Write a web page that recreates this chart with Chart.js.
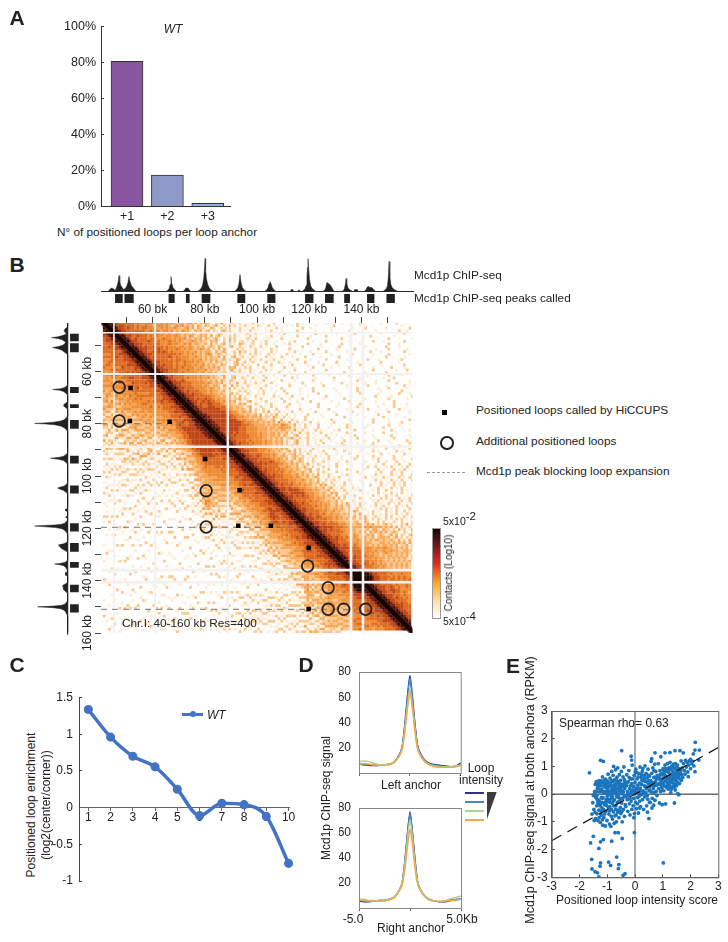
<!DOCTYPE html>
<html>
<head>
<meta charset="utf-8">
<title>Positioned loops figure</title>
<script src="https://cdn.jsdelivr.net/npm/chart.js@4/dist/chart.umd.min.js"></script>
<style>
  html, body { margin: 0; padding: 0; background: #fff; }
  #page { position: relative; width: 728px; height: 942px; overflow: hidden; font-family: "Liberation Sans", Arial, sans-serif; color: #222; }
  #page canvas { position: absolute; }
  .t { position: absolute; white-space: nowrap; line-height: 1; }
</style>
</head>
<body>
<div id="page"></div>
<script>
// panel A
const anchorLabels = ['+1', '+2', '+3'];
const anchorShare = [80.8, 17.5, 1.8];

// panel B tracks, signal along the chromosome (kb)
const trackKb = [40.5,43,43.7,44.4,45.1,45.6,46,46.4,46.8,47.1,47.4,47.8,48.3,48.8,49.5,50,50.5,50.9,51.3,51.8,52.4,53,53.6,
  65,65.6,66.2,66.6,66.9,67.2,67.7,68.3,69,71.5,72.2,72.6,73,73.4,73.8,74.5,
  77,77.8,78.5,79,79.4,79.7,79.9,80.1,80.4,80.9,81.5,82.2,83,91,91.8,92.4,92.8,93.2,93.6,94.1,94.8,95.6,
  102.5,103.3,103.9,104.3,104.6,105,105.5,106.2,107,112.4,112.7,113.3,113.6,115.3,115.5,115.9,116.1,
  116.8,117.5,118,118.4,118.7,118.9,119.1,119.4,119.7,120.1,120.7,121.4,122.2,124.8,125.5,125.9,126.3,126.9,127.4,128,128.6,129.2,
  132,132.6,133,133.4,133.6,133.9,134.3,134.9,135.5,136.2,136.6,136.9,137.9,138.2,140.6,141.2,141.7,142.2,142.8,143.4,144,144.8,
  147.7,148.4,149,149.4,149.7,150,150.3,150.7,151.2,151.9,152.7,153.5,159.5];
const trackSignal = [0,0,2.5,3.5,2.5,1,3,6,10,16,10,6,4,2,3,5,9,15,10,6,4,2,0,
  0,1,3,7,15,8,4,2,0,0,2,3.5,3.5,3.5,2,0,
  0,1.5,3.5,7,14,24,33,22,13,7,3.5,1.5,0,0,1.5,4,8,17,9,4,1.5,0,
  0,1.5,4,8,10,8,4,1.5,0,0,2,2,0,0,1.5,1.5,0,
  0,1.5,3,6,13,24,33,22,12,6,3,1.5,0,0,1.5,4,9,8,7,5,2,0,
  0,1,3,8,13,8,4,2,1,0,0,2,2,0,0,2,4.5,5,4,4,2.5,0,
  0,1.5,3,6,14,30,15,7,4,2,1,0,0];
const peakStart = [45.6,49.2,66,72.6,78.6,92.2,103.6,118,125.6,132.9,141.6,149];
const peakEnd = [48.5,52.7,68.3,74,81.9,95.2,106.7,121.2,128.9,135.1,144.4,152.2];

// panel B contact map, 1 kb bins from 41 kb, upper triangle, one digit per bin (0 white .. 9 black)
const contactRows = [
  '9998776666 6656555655 5454545434 4345342434 3213242303 2031021320 0201030102 0100302001 0010020100 0200010030 0010002000 003000100',
  '9998777666 6565565545 5545434545 3434243243 2342031423 0213020131 1030201002 0203001000 2001000301 0010000200 0010000100 00020010',
  '9998776766 5656655554 5454454334 5342433204 3123243020 3102030210 2001302010 0100300200 0001020010 0002000030 0100002000 0100030',
  '9998776666 6665565654 5545343544 3243423413 2034232103 1203020102 0301020001 0300100020 0100200001 0300001000 0200010000 300200',
  '9988767666 6565556555 4544543443 4324342302 4312203120 2301302010 1002030100 2001000300 1000020100 0030000100 0020000010 03000',
  '9998776676 6656565545 5455434354 2343424034 2213032102 0312010203 0102001003 0010200010 3000100002 0001000300 0010002000 1000',
  '9998767666 6566555655 4545453434 3424323420 3142302013 2030120201 0030102000 1030010002 0100030000 1002000010 0003000100 002',
  '9998776666 7665655565 5454344543 4332434203 2413023120 3012030102 0100203001 0002010030 0010000200 0100003000 2000010030 00',
  '9988777666 6666555655 5445453443 3424232340 3121432023 1020301201 0203001000 3001020001 0003000100 2000010000 0300020001 0',
  '9998776766 7666565554 5544543434 2343243203 4123021320 1302010301 0020100300 1000200100 0300001000 0200100003 0000200010',
  '9998777666 6765655565 4545434543 4232424312 0323102031 0201302001 0300102000 1030001002 0001003000 1000200003 000100200',
  '9998776676 7676565555 4544534344 3242343023 1423021302 0103020100 2030010020 0100300001 0020000100 0300020000 10003000',
  '9988777666 6666665654 5454343454 2343242031 3220313020 1302010030 1002001030 0100020010 0003000010 0200000300 0100020',
  '9998767666 6676565555 4454434343 3424203412 3021320103 0201030102 0010300100 2000100300 0010002000 1000030010 002000',
  '9998776666 6565665554 5445343434 2342320431 2031203012 0301020010 3001020001 0300010002 0001000300 0200001000 30010',
  '9998777666 6656556555 4544334243 3242034123 0232010302 0130102001 0030100200 1000300100 0020001000 0300010020 0001',
  '9998776766 6565565545 4453434324 3320341302 2103020130 1020103001 0020100030 0100200001 0030001000 2000100003 000',
  '9988776666 5656555544 5434343423 2434120323 1020310201 0030102000 1003001000 2000100300 0010002000 1003000020 00',
  '9998777666 6555655454 4534334232 3402312031 2010302010 2001030010 0200100300 0010000200 0100030001 0000200030 0',
  '9998776666 5655555445 3443423342 0323120320 1302010030 1020001030 0100020001 0003000100 0200001003 0000100200',
  '9998767666 6555554544 4343234203 3212031020 1301020103 0010200100 3000102000 1000300010 0200100003 000020001',
  '9998776666 5655545445 3433242034 1232013021 0301020001 0302000100 2000100300 0010000200 0100002000 30001000',
  '9988776676 5555454434 3424303321 2031202103 0102003010 0200100030 0010002000 1000030001 0020000300 0100020',
  '9998777666 6555554543 4342330241 2302130201 0301001020 0103000100 2000010030 0001000200 0200010003 000020',
  '9998776666 5555454344 3243042312 0321020130 1020010300 1002000100 3000010002 0001000300 0100200001 03000',
  '9998776666 5555445434 2334132031 2012030102 0013001000 2001030000 1002000010 0030001000 2000300100 0200',
  '9988767666 6555454433 4232023130 2102031010 2003010002 0010300010 0002000100 0300001000 2001000030 010',
  '9998776766 6554544343 2342312032 1020301020 0103001020 0100030001 0002000100 0300001020 0001003000 20',
  '9998777666 6665544343 4230412021 3012010302 0010301000 2000100300 0010002000 1000003000 1020000100 3',
  '9998776766 7665454434 2334132012 0301020103 0020010300 0100020001 0003000010 0200001000 3000100200',
  '9998776676 7665545343 4232034120 2130102013 0010200103 0001000200 1000300010 0000200100 030000100',
  '9998767667 7666544433 2434120321 0203010200 3010200100 0300010002 0001000300 0001002000 30010200',
  '9998776677 7666654434 3323412032 1030201030 1002001000 3001000200 0100030001 0002000103 0000100',
  '9988777777 7766654343 4324132030 2103010201 0030102000 1003000100 2000010030 0001020000 300100',
  '9998777777 7776655434 4342310324 1203020130 1020010300 0100200100 0300001000 2000130000 10020',
  '9998877777 7776655443 4334241303 2412031020 1003010020 0100300010 0020001000 3000100200 0010',
  '9998877777 7776655544 3443423314 3203120201 0301001020 0010003000 1000200010 0300001002 000',
  '9998877777 7777655544 4344332342 0412130201 3002010010 3000100200 0100003000 1020000100 30',
  '9998877777 7777765554 4434343425 3324123021 0301200100 3001000200 0100030010 0200003000 1',
  '9998877777 7777666554 4443434435 5432412030 2103010020 0100300010 0020001000 3000200010',
  '9998877777 7766655554 4443443454 4423120320 1030102000 1003001000 2000100300 001020000',
  '9998777777 7666555544 4434343443 3242031201 3020100203 0010030010 0020001003 00001020',
  '9998777767 6665555454 4344343342 3204123020 1301020010 0300100020 0010030000 2001000',
  '9998776766 6665554544 3443424320 3412031020 1030102001 0003001000 2000100300 001020',
  '9998776666 6655555443 4343423342 0312302010 2030100200 1003000100 2001000300 01002',
  '9998776666 5655554544 3434232034 1203012030 1020010300 0100020010 3000200100 0300',
  '9988767666 5655545443 4342320341 2031020130 1002030010 0200100300 1000200010 030',
  '9998776666 5555454434 3423240312 0321030102 0010030100 0200013000 2010003001 02',
  '9998776666 6555544343 4342032312 0130201020 3010020010 0300020100 3002000103 0',
  '9998777666 5554544343 2342403120 3102030100 2003010002 0100302001 0003020010',
  '9998776666 6555454334 2334132032 0102030102 0010300100 0201003002 000103020',
  '9998776676 5554543443 2343032120 3021030100 2001003000 1030020010 30020010',
  '9988777666 6655454342 3424312032 1020301002 0100300010 0203001003 0020103',
  '9998776766 6765544334 2343120320 1302010200 3001000200 1030020103 002010',
  '9998777676 6665544343 4232412032 1020130102 0010030010 2003010203 01030',
  '9998776666 6654454334 2342031203 0210301000 2001003003 0102030102 0301',
  '9998767666 5655444343 2334123020 3102010300 1000200103 0201030203 010',
  '9998776666 5654544334 3242031320 1030201000 3001000203 0103020301 02',
  '9998776766 6555445343 4232412032 0102030100 2000103020 1030203010 3',
  '9988777666 5555454334 2343120312 0301020100 0300201030 2010302030',
  '9998776666 6555445434 3242031230 2010301020 0100302010 302030103',
  '9998776666 5654544343 3423203121 0302010030 0102030120 30203010',
  '9998767666 6555454433 2434123020 3102010200 3010302013 0203010',
  '9998777676 6655544343 3423412032 0130201000 1030201302 030102',
  '9998776777 7665554443 3342312032 1020301002 0301302010 30201',
  '9998776777 7765554434 3243412031 2010302010 3020130203 0102',
  '9998777676 7665544343 4324123020 3102010302 0130203010 203',
  '9988776666 6655454433 3424130212 0301020103 0302013020 30',
  '9998776666 5655544343 3423210321 0301020302 0130203103 0',
  '9998776766 5554544433 4232431203 0201030201 3020310203',
  '9998776666 5655454334 3423412032 1020301302 013020301',
  '9998777666 5554543443 4324123032 0102031302 03102030',
  '9998776666 6555445343 3243431202 1302013020 3103020',
  '9998767666 5654544434 3423243120 3102030213 021302',
  '9998776676 5555454433 4342334212 3021303102 03013',
  '9988776666 6554544343 4323342131 3203120313 0212',
  '9998777666 5655444343 3423431023 1302132031 203',
  '9998776766 6665554443 4443434232 3423120324 13',
  '9998877777 6666554544 4454544443 4342413203 1',
  '9998777676 6655454433 4342443243 3231423024',
  '9998776666 6654544343 4243434342 343213203',
  '9998776666 5554454343 4342343234 24132034',
  '9998776766 5654543443 3423443423 4231323',
  '9998777666 5554544434 3443433432 423142',
  '9998776666 6555454443 3344343434 34243',
  '9988776766 5654544343 4344343423 3423',
  '9998777777 6655555445 4554434343 423',
  '9998776776 6655554544 5445443344 33',
  '9998776666 6555454434 5443434343 2',
  '9998776766 5655544343 4434343423',
  '9998777666 5554544434 3434343234',
  '9998776666 6555454343 4343434',
  '9988776676 5654544343 434343',
  '9998777666 5554543434 34343',
  '9998776666 6555444343 4343',
  '9999887766 6666655555 555',
  '9999998776 6665655565 55',
  '9999998776 6665656565 5',
  '9999987766 6566565656',
  '9998877666 565655656',
  '9998776666 65655565',
  '9998777667 6565565',
  '9998776677 665555',
  '9988776676 65654',
  '9998777666 5655',
  '9998776766 565',
  '9998776666 55',
  '9998776766 5',
  '9988777666',
  '999877666',
  '99987766',
  '9998776',
  '999877',
  '99987',
  '9998',
  '999',
  '99',
  '9'
];
const contactColors = ['#ffffff','#fffaf3','#feecd6','#fcc88e','#f6a656','#ee8c33','#dd6a20','#bf4617','#7c1f10','#1b0907'];
const gapKb = [45.2, 61, 88.8, 136, 140.6];
const gapWidth = [1.6, 2, 2.5, 2.8, 2.5];
const hiccupsX = [51.56,51.29,66.53,80.13,93.31,92.82,105.28,119.76,119.76];
const hiccupsY = [66.35,78.96,79.23,93.49,105.45,118.98,118.98,127.39,150.83];
const extraX = [47.21,47.21,80.51,80.51,119.38,127.23,127.23,133.2,141.59];
const extraY = [66.08,78.96,105.6,119.48,134.39,142.68,150.94,150.94,150.94];
const blockY = [80, 119.6, 150.94];
const blockEnd = [76.8, 114.2, 147.7];
const topTickText = {60: '60 bk', 80: '80 kb', 100: '100 kb', 120: '120 kb', 140: '140 kb'};
const leftTickText = {60: '60 kb', 80: '80 bk', 100: '100 kb', 120: '120 kb', 140: '140 kb', 160: '160 kb'};

// panel C
const deciles = [1,2,3,4,5,6,7,8,9,10];
const enrichment = [1.336,0.96,0.70,0.555,0.25,-0.11,0.06,0.04,-0.12,-0.76];

// panel D
const anchorX = [-5,-4.5,-4,-3.5,-3,-2.5,-2,-1.5,-1,-0.75,-0.5,-0.25,0,0.25,0.5,0.75,1,1.5,2,2.5,3,3.5,4,4.5,5];
const leftNavy = [7,6.5,6,6,6,6.5,7,9,15,21,38,60,77,61,39,22,16,10,7.5,6.5,6,5.5,5,5.5,8];
const leftBlue = [7,6.5,6.5,6,6,6.5,7,9,15,21,37,58,75,59,38,22,16,9.5,7,6,5.5,5,5,5.5,7];
const leftGreen = [9,9.5,9,7.5,6.5,6.5,7,9,14,20,34,53,67,54,35,20,14.5,9,6.5,5.5,5,5,5,5.5,6];
const leftOrange = [7,7.5,7,6.5,6,6,6.5,8.5,14,19,32,50,64,51,33,19,14,8.5,6,5,4.5,4.5,4.5,5,6];
const rightNavy = [5.5,5,5,5.5,6,6,7,9,15,21,38,60,77,60,38,21,15,9,6.5,5.5,5,5,6,6.5,7];
const rightBlue = [6,5.5,5.5,5.5,6,6,7,9,15,21,37,58,75,59,37,21,15,9,6.5,5.5,5,5.5,6.5,7,7.5];
const rightGreen = [7,7,6,6,5.5,6,7,9.5,15,21,35,56,71,56,35,21,15,9,6.5,5.5,5.5,6,7.5,8.5,9.5];
const rightOrange = [6.5,6,5.5,5.5,5.5,5.5,6.5,8.5,14,19,31,49,63,50,31,19,14,8.5,6,5.5,5,5.5,6,6.5,7];
const intensityColors = ['#2e3192','#4a86c8','#a6d78c','#f9a64a'];

// panel E
const loopScore = [
  -1.64,-1.6,-1.5,-1.56,-1.55,-1.44,-1.35,-1.3,-1.24,-1.3,-1.14,-.84,-1.24,-1.26,-.95,-.88,-.66,-.58,-.6,-.36,
  -.43,1.02,-.02,-.46,-.72,-.6,-.48,-.14,-.12,-1.24,-1.14,2.17,2.16,2.32,2.3,.72,1.08,1.26,1.44,1.62,
  1.74,2.1,2,2.16,1.92,
  -1.55,-1.52,-1.48,-1.46,-1.42,-1.41,-1.4,-1.38,-1.37,-1.35,-1.34,-1.33,-1.31,-1.3,-1.28,-1.27,-1.25,-1.24,-1.22,-1.21,
  -1.2,-1.19,-1.17,-1.16,-1.15,-1.14,-1.12,-1.11,-1.1,-1.08,-1.07,-1.06,-1.05,-1.03,-1.02,-1.01,-1,-.98,-.97,-.96,
  -.95,-.94,-.93,-.92,-.9,-.89,-.88,-.87,-.86,-.85,-.84,-.83,-.82,-.81,-.8,-.79,-.78,-.77,-.76,-.75,
  -.74,-.73,-.72,-.71,-.7,-.69,-.68,-.67,-.66,-.65,-.64,-.63,-.62,-.61,-.6,-.59,-.58,-.57,-.56,-.55,
  -.54,-.53,-.52,-.51,-.5,-.49,-.48,-.47,-.46,-.45,-.44,-.43,-.42,-.41,-.4,-.39,-.38,-.37,-.36,-.35,
  -1.5,-1.44,-1.39,-1.36,-1.33,-1.29,-1.26,-1.23,-1.18,-1.13,-1.09,-1.04,-.99,-.91,-.83,-.79,-.71,-.66,-.61,-.53,
  -1.47,-1.43,-1.37,-1.32,-1.27,-1.22,-1.17,-1.11,-1.06,-1.01,-.96,-.92,-.87,-.82,-.77,-.72,-.67,-.62,-.57,-.52,
  -1.36,-1.3,-1.24,-1.19,-1.13,-1.07,-1.03,-.98,-.93,-.86,-.8,-.74,-.69,-.64,-.59,-.55,-.5,-.47,-.42,-.38,
  -.33,-.31,-.3,-.28,-.27,-.26,-.24,-.23,-.22,-.2,-.19,-.18,-.16,-.15,-.14,-.12,-.11,-.1,-.08,-.07,
  -.06,-.05,-.03,-.02,-.01,0,.02,.03,.04,.05,.07,.08,.09,.1,.12,.13,.14,.16,.17,.18,
  .19,.2,.22,.23,.24,.26,.27,.28,.3,.31,.32,.34,.35,.36,.38,.39,.4,.42,.43,.44,
  .46,.47,.48,.5,.51,.52,.54,.55,.56,.58,.59,.6,.62,.63,.64,.66,.67,.68,.7,.71,
  .72,.74,.75,.76,.78,.79,.8,.82,-.25,-.17,-.09,-.04,.06,.15,.21,.29,.37,.45,.53,.61,
  .69,.77,.33,.41,.49,.57,.25,.11,-.13,-.21,-.29,.01,.09,.17,.28,.44,.52,.6,.68,.84,
  .85,.86,.88,.89,.9,.92,.93,.94,.96,.97,.98,1,1.01,1.02,1.04,1.05,1.06,1.08,1.09,1.1,
  1.12,1.13,1.14,1.16,1.17,1.18,1.2,1.21,1.22,1.24,1.25,1.26,1.28,1.29,1.3,1.32,1.33,1.34,1.36,1.37,
  1.38,1.4,1.41,1.42,1.44,1.45,1.46,1.48,1.49,1.5,1.52,1.53,1.54,1.56,1.57,1.58,1.6,1.62,1.64,1.66,
  1.68,1.7,1.72,1.75,1.78,1.8,1.82,1.85,1.88,1.9,1.93,1.96,2,2.04,2.08,2.12,.87,.95,1.03,1.11,
  1.19,1.27,1.35,1.43,1.51,1.59,1.67,1.15,1.23,1.31,1.39,1.47,1.55,1.07,.99,.91,1.28,1.36,1.44,1.52,
  1.2,1.3,1.4,1.5,1.6,1.1,1,.9,1.25,1.35,1.45,1.55,1.65,
  -1.45,-1.21,-1.12,-1.04,-.97,-.9,-.84,-.78,-.7,-.63,-.56,-.49,-.44,-1.34,-1.26,-1.16,-1.09,-1,-.92,-.85,
  -.78,-.68,-.6,-.51,-.4,-.32,-.18,-.04,.12,.22,.35,.48,.6,.72,.92,1.04,1.16,1.27,1.38,1.49];
const anchorSignal = [
  .77,-1.76,-1.52,-2.35,-2.7,-2.8,-2.84,-2.99,-1.72,-1.96,-1.64,-1.7,-2.48,-2.6,-2.45,-2.57,-2.27,-2.54,-2.69,-2.87,
  -2.93,-2.48,-1.39,-1.6,-1.39,-1.39,1.57,1.37,1.23,1.22,1.18,1.87,1.59,1.59,1.23,1.49,1.49,1.5,1.57,1.57,
  1.49,1.45,1.25,.81,.63,
  -.72,-.31,-.55,.02,-.88,-.12,.44,-.42,-.71,.21,-.95,.38,-.22,-.58,.49,.08,-1.02,-.35,.31,-.76,
  .17,-.5,.62,-1.12,-.13,.41,-.84,.26,-.38,.03,-1.15,.54,-.62,.35,.12,-.95,-.27,.47,.72,-.48,
  .09,-.72,.28,-1.08,.58,-.18,.38,-1.16,.01,-.55,.82,.19,-.33,-.9,.46,.07,-.64,1,.31,-1.05,
  -.2,.52,-.78,.15,.88,-.42,.33,-1,-.08,.61,-.31,.2,.95,-.58,.42,-.12,-.85,.27,.7,-.25,
  .1,-.48,.5,-.7,.02,.82,-.32,.29,-1,.12,-.15,.62,-.55,.36,.98,-.05,-.8,.2,.45,-.38,
  -.05,-.66,.1,-.18,.28,-.85,.18,-.62,-.3,.05,-.72,.25,.3,-.45,-.12,.68,.02,.42,-.28,.3,
  -.95,.35,-.05,-.38,-.28,.48,-.92,.5,.1,.42,-.2,-.6,.12,-.08,-.42,.36,.05,-.65,.12,-.18,
  .46,.32,.4,-.15,-.55,-.3,-.4,.2,-.02,.32,.15,.25,.08,.48,.22,-.6,.35,-.62,.08,.52,
  -.45,.3,.7,-.2,.1,-.62,.45,-.05,.85,-.35,.2,-.75,.55,.02,-.25,.38,-.55,1.05,.15,-.42,
  .28,-.15,.68,-.7,.05,.42,-.3,.9,.2,-.52,.1,.55,-.12,.32,-.68,.75,.05,.4,-.25,.98,
  .22,-.45,.6,-.02,.35,.82,-.2,.48,.12,-.55,.68,.3,-.1,1.02,.45,.05,.75,-.42,.25,.58,
  -.18,.9,.38,-.88,.12,.65,.28,-.3,.5,1.18,.08,.75,-.15,.42,.95,.2,-.4,.6,.3,1.08,
  -.22,.45,.82,.1,.55,-.05,.68,.35,.02,.3,.55,-.85,.78,-.08,.12,.02,.28,-.65,.15,-.5,
  .05,.32,.55,.2,.48,.38,.5,.62,.1,.6,.4,.8,-.35,-.5,.92,-.05,-.3,1.28,.85,1.1,
  .2,.62,-.32,.4,.85,.1,1.35,.5,.25,.72,-.38,.38,.92,.58,.12,.78,.3,1.05,.48,-.35,
  .65,.25,.88,.42,1.1,.6,.18,.78,.95,.35,.52,1.15,.7,.05,.88,.45,1.02,.62,.28,.8,
  .4,.95,.58,-.32,.72,.15,1.1,.5,.85,.3,.65,1.05,.02,.78,.4,-.02,.92,.55,.75,1.2,
  .7,.95,.6,1.1,.85,.72,1.22,.98,1.15,.8,1.05,1.2,.92,1.1,1.18,1.02,.55,.7,.42,.82,
  .32,.48,.7,.52,1,.68,.5,.55,.62,.18,1.08,.68,.88,.68,.15,.35,.95,.55,.92,.42,
  .85,.6,.25,.75,.38,.92,.75,.55,.28,1,.35,.6,.85,
  .1,-.12,.08,-.2,.05,-.3,.5,-.25,-.55,-.1,.38,-.15,.35,-.3,-.42,.1,.32,-.08,.4,-.8,
  .25,-.75,-.02,.22,.28,-.1,-.15,.12,.2,.72,.62,.68,.32,.6,.72,.85,.3,.42,.75,.62];
const fitX = [-3, 3];
const fitY = [-1.68, 1.68];

Chart.defaults.font.family = '"Liberation Sans", Arial, sans-serif';
Chart.defaults.font.size = 12;
Chart.defaults.color = '#222';
Chart.defaults.animation = false;
Chart.defaults.events = [];
Chart.defaults.plugins.legend.display = false;
Chart.defaults.plugins.tooltip.enabled = false;

const page = document.getElementById('page');

// c = canvas rect [left, top, width, height], p = plot rect [x0, y0, x1, y1]
// a visible axis takes exactly the gap between canvas edge and plot, the layout padding covers the rest
function makeChart(c, p, config) {
  const canvas = document.createElement('canvas');
  canvas.width = c[2];
  canvas.height = c[3];
  canvas.style.left = c[0] + 'px';
  canvas.style.top = c[1] + 'px';
  page.appendChild(canvas);
  config.options = config.options || {};
  config.options.responsive = false;
  const pad = {left: p[0] - c[0], top: p[1] - c[1], right: c[0] + c[2] - p[2], bottom: c[1] + c[3] - p[3]};
  Object.keys(config.options.scales).forEach(function(key) {
    const s = config.options.scales[key];
    if (s.display === false || typeof s.position === 'object') return;
    const side = s.position || (key === 'x' ? 'bottom' : 'left');
    const size = pad[side];
    pad[side] = 0;
    s.afterFit = function(scale) {
      if (scale.isHorizontal()) scale.height = size; else scale.width = size;
      scale.paddingLeft = scale.paddingRight = scale.paddingTop = scale.paddingBottom = 0;
    };
  });
  config.options.layout = {padding: pad};
  return new Chart(canvas, config);
}

function text(str, x, y, size, opts) {
  opts = opts || {};
  const d = document.createElement('div');
  d.className = 't';
  d.innerHTML = str;
  d.style.fontSize = size + 'px';
  d.style.left = x + 'px';
  d.style.top = y + 'px';
  if (opts.italic) d.style.fontStyle = 'italic';
  if (opts.bold) d.style.fontWeight = 'bold';
  const ax = opts.left ? '0' : '-50%';
  d.style.transform = 'translate(' + ax + ',-50%)' + (opts.rot ? ' rotate(' + opts.rot + 'deg)' : '');
  page.appendChild(d);
  return d;
}

function box(x, y, w, h, css) {
  const d = document.createElement('div');
  d.style.position = 'absolute';
  d.style.left = x + 'px';
  d.style.top = y + 'px';
  d.style.width = w + 'px';
  d.style.height = h + 'px';
  d.style.cssText += css || '';
  page.appendChild(d);
  return d;
}

function xy(xs, ys) {
  return xs.map(function(v, i) { return {x: v, y: ys[i]}; });
}

function frame(color) {
  return {
    id: 'frame',
    afterDatasetsDraw: function(chart) {
      const a = chart.chartArea;
      chart.ctx.save();
      chart.ctx.strokeStyle = color;
      chart.ctx.lineWidth = 1;
      chart.ctx.strokeRect(a.left + 0.5, a.top + 0.5, a.width, a.height);
      chart.ctx.restore();
    }
  };
}

// ---- panel A
makeChart([50, 15, 200, 210], [101, 26.7, 230, 206.5], {
  type: 'bar',
  data: {datasets: [{
    data: xy([1, 2, 3], anchorShare),
    backgroundColor: ['#8855a0', '#8e99c8', '#8eb4dc'],
    borderColor: '#333',
    borderWidth: 1,
    barThickness: 32
  }]},
  options: {scales: {
    x: {type: 'linear', offset: false, min: 0.356, max: 3.55,
      grid: {display: false, offset: false, drawTicks: false}, border: {color: '#333'},
      ticks: {stepSize: 1, includeBounds: false, padding: 3, font: {size: 12.5},
        callback: function(v) { return anchorLabels[v - 1]; }}},
    y: {min: 0, max: 100,
      grid: {drawOnChartArea: false, tickLength: -3, tickColor: '#333'}, border: {color: '#333'},
      ticks: {stepSize: 20, padding: 8, font: {size: 12.5}, callback: function(v) { return v + '%'; }}}
  }}
});
text('WT', 173, 29, 12, {italic: true});
text('N° of positioned loops per loop anchor', 157, 232.5, 11.8);

// ---- panel B top track
const axisKb = [40.24, 159.5];
const topSets = [{
  data: xy(trackKb, trackSignal), showLine: true, fill: 'origin', pointRadius: 0,
  borderColor: '#222', backgroundColor: '#222', borderWidth: 0.5
}, {
  data: xy(axisKb, [0, 0]), showLine: true, pointRadius: 0, borderColor: '#333', borderWidth: 1
}];
peakStart.forEach(function(s, i) {
  topSets.push({data: xy([s, peakEnd[i]], [-7, -7]), showLine: true, pointRadius: 0, borderColor: '#222', borderWidth: 9});
});
makeChart([95, 250, 330, 60], [101, 255.5, 414, 303.5], {
  type: 'scatter',
  data: {datasets: topSets},
  options: {scales: {
    x: {type: 'linear', display: false, min: 40.24, max: 159.5},
    y: {display: false, min: -12, max: 36}
  }}
});

// ---- panel B left track
const leftSets = [{
  data: xy(trackSignal, trackKb), fill: 'origin', pointRadius: 0,
  borderColor: '#222', backgroundColor: '#222', borderWidth: 0.5
}, {
  data: xy([0, 0], [41.5, 160.5]), pointRadius: 0, borderColor: '#333', borderWidth: 1
}];
peakStart.forEach(function(s, i) {
  leftSets.push({data: xy([-6.8, -6.8], [s, peakEnd[i]]), pointRadius: 0, borderColor: '#222', borderWidth: 8.7});
});
makeChart([25, 318, 60, 320], [29.6, 323, 79.6, 635], {
  type: 'line',
  data: {datasets: leftSets},
  options: {
    indexAxis: 'y',
    scales: {
      x: {type: 'linear', display: false, min: -12, max: 38, reverse: true},
      y: {type: 'linear', display: false, min: 41.5, max: 160.76, reverse: true}
    }
  }
});

// ---- panel B contact map
const cells = [];
const cellColors = [];
contactRows.forEach(function(row, i) {
  const digits = row.replace(/ /g, '');
  for (let k = 0; k < digits.length; k++) {
    const j = i + k;
    const level = Number(digits[k]);
    if (level === 0) continue;
    cells.push({x: 41.5 + j, y: 41.5 + i});
    cellColors.push(contactColors[level]);
    if (k > 0) {
      cells.push({x: 41.5 + i, y: 41.5 + j});
      cellColors.push(contactColors[level]);
    }
  }
});
const mapSets = [{
  label: 'cells', data: cells, order: 9, pointStyle: 'rect', pointRadius: 2, pointBorderWidth: 0,
  pointBackgroundColor: cellColors
}, {
  label: 'diagonal fringe', data: xy([41, 160], [41, 160]), order: 8, showLine: true, pointRadius: 0,
  borderColor: 'rgba(125,35,15,0.75)', borderWidth: 7
}, {
  label: 'diagonal', data: xy([41, 160], [41, 160]), order: 7, showLine: true, pointRadius: 0,
  borderColor: '#140606', borderWidth: 4.5
}, {
  label: 'block', data: xy([137, 140], [138.4, 138.4]), order: 6, showLine: true, pointRadius: 0,
  borderColor: '#140606', borderWidth: 10
}, {
  label: 'hiccups', data: xy(hiccupsX, hiccupsY), order: 1, pointStyle: 'rect', pointRadius: 3.2, pointBorderWidth: 0,
  pointBackgroundColor: '#000'
}, {
  label: 'extra', data: xy(extraX, extraY), order: 1, pointStyle: 'circle', pointRadius: 5.8,
  pointBackgroundColor: 'rgba(0,0,0,0)', pointBorderColor: '#222', pointBorderWidth: 1.8
}];
gapKb.forEach(function(g, i) {
  mapSets.push({data: xy([g, g], [41, 160]), order: 5, showLine: true, pointRadius: 0, borderColor: '#f2f2f2', borderWidth: gapWidth[i]});
  mapSets.push({data: xy([40, 160], [g, g]), order: 5, showLine: true, pointRadius: 0, borderColor: '#f2f2f2', borderWidth: gapWidth[i]});
});
blockY.forEach(function(y, i) {
  mapSets.push({data: xy([40.24, blockEnd[i]], [y, y]), order: 2, showLine: true, pointRadius: 0, borderColor: '#777', borderWidth: 1, borderDash: [6, 5]});
});
makeChart([70, 300, 350, 356], [101, 323, 414, 633], {
  type: 'scatter',
  data: {datasets: mapSets},
  options: {scales: {
    x: {type: 'linear', position: 'top', min: 40.24, max: 159.5,
      grid: {drawOnChartArea: false, tickLength: 6, tickColor: '#444'}, border: {display: false},
      ticks: {stepSize: 10, includeBounds: false, autoSkip: false, maxRotation: 0, padding: 0,
        callback: function(v) { return topTickText[v] || ''; }}},
    y: {type: 'linear', position: 'left', reverse: true, min: 41.5, max: 160,
      grid: {drawOnChartArea: false, tickLength: 6, tickColor: '#444'}, border: {display: false},
      ticks: {stepSize: 10, includeBounds: false, autoSkip: false, minRotation: 90, maxRotation: 90, crossAlign: 'center', padding: -11,
        callback: function(v) { return leftTickText[v] || ''; }}}
  }}
});
text('Chr.I: 40-160 kb Res=400', 122, 624, 11.8, {left: true});

// ---- panel B legend and colour bar
text('Mcd1p ChIP-seq', 414, 276, 11.8, {left: true});
text('Mcd1p ChIP-seq peaks called', 414, 299, 11.8, {left: true});
text('Positioned loops called by HiCCUPS', 476, 411, 11.8, {left: true});
text('Additional positioned loops', 476, 442, 11.8, {left: true});
text('Mcd1p peak blocking loop expansion', 476, 472, 11.8, {left: true});
box(442.2, 410.2, 5, 5, 'background:#000;');
box(440, 436.3, 9.5, 9.5, 'border:2.2px solid #222;border-radius:50%;');
box(427, 472, 38, 0, 'border-top:1px dashed #999;');
box(431.5, 527.5, 7, 89, 'border:1px solid #999;background:linear-gradient(to top,#fff 0%,#fee7c0 15%,#f9a61f 40%,#e2271f 62%,#6f1a1c 82%,#120607 100%);');
text('5x10<span style="position:relative;top:-5px;font-size:11.5px">-2</span>', 443, 522, 10.5, {left: true});
text('5x10<span style="position:relative;top:-5px;font-size:11.5px">-4</span>', 443, 622, 10.5, {left: true});
text('Contacts (Log10)', 448.5, 573, 10, {rot: -90});

// ---- panel C
makeChart([40, 690, 260, 200], [79, 697.3, 289, 881], {
  type: 'line',
  data: {datasets: [{
    data: xy(deciles, enrichment), borderColor: '#4472c4', backgroundColor: '#4472c4',
    borderWidth: 3.5, pointRadius: 2.8, tension: 0.4, cubicInterpolationMode: 'monotone', clip: false
  }]},
  options: {scales: {
    x: {type: 'linear', position: {y: 0}, min: 0.58, max: 10.02,
      grid: {drawOnChartArea: false, tickLength: 3, tickColor: '#666'}, border: {color: '#666'},
      ticks: {stepSize: 1, includeBounds: false, padding: 0, font: {size: 12}}},
    y: {min: -1, max: 1.5,
      grid: {drawOnChartArea: false, tickLength: -3, tickColor: '#444'}, border: {color: '#444'},
      ticks: {stepSize: 0.5, padding: 9, font: {size: 12}, callback: function(v) { return String(v); }}}
  }}
});
box(182, 712.8, 21, 2.8, 'background:#4472c4;');
box(189.5, 711.2, 6, 6, 'background:#4472c4;border-radius:50%;');
text('WT', 207, 714.5, 12, {left: true, italic: true});
text('Positioned loop enrichment', 31, 805, 12, {rot: -90});
text('(log2(center/corner))', 46, 805, 12, {rot: -90});

// ---- panel D
function anchorChart(plot, sets) {
  makeChart([plot[0] - 20, plot[1] - 8, 125, plot[3] - plot[1] + 18], plot, {
    type: 'line',
    data: {datasets: sets.map(function(vals, i) {
      return {data: xy(anchorX, vals), borderColor: intensityColors[i], borderWidth: 1.4, pointRadius: 0, tension: 0.2, order: 4 - i};
    })},
    options: {scales: {
      x: {type: 'linear', min: -5, max: 5,
        grid: {drawOnChartArea: false, tickLength: 3, tickColor: '#666'}, border: {color: '#777'},
        ticks: {stepSize: 5, display: false}},
      y: {min: 0, max: 80,
        grid: {drawOnChartArea: false, drawTicks: false}, border: {color: '#777'},
        ticks: {stepSize: 20, padding: 8, font: {size: 12}, callback: function(v) { return v === 0 ? '' : v; }}}
    }},
    plugins: [frame('#888')]
  });
}
anchorChart([359, 672, 460.7, 773], [leftNavy, leftBlue, leftGreen, leftOrange]);
anchorChart([359.3, 807.5, 461.3, 908.3], [rightNavy, rightBlue, rightGreen, rightOrange]);
text('Left anchor', 411, 785, 12);
text('Right anchor', 411, 927.5, 12);
text('-5.0', 353, 919, 12);
text('5.0Kb', 462, 918.5, 12);
text('Mcd1p ChIP-seq signal', 326, 798, 12, {rot: -90});
text('Loop', 481, 768, 12);
text('intensity', 481, 780, 12);
intensityColors.forEach(function(col, i) {
  box(465, 792 + i * 9.1, 19, 1.5, 'background:' + col + ';');
});
box(486.7, 792, 10, 28, 'background:#3c3c3c;clip-path:polygon(0 0,100% 0,0 100%);');

// ---- panel E
makeChart([520, 700, 205, 194], [551.7, 711, 718.3, 877.3], {
  type: 'scatter',
  data: {datasets: [{
    data: xy(fitX, fitY), order: 1, showLine: true, pointRadius: 0, borderColor: '#111', borderWidth: 1.2, borderDash: [11, 7]
  }, {
    data: xy(loopScore, anchorSignal), order: 2, pointRadius: 1.9, pointBorderWidth: 0, pointBackgroundColor: '#1c75bc'
  }, {
    data: xy([-3, 3], [0, 0]), order: 3, showLine: true, pointRadius: 0, borderColor: '#222', borderWidth: 1
  }, {
    data: xy([0, 0], [-3, 3]), order: 3, showLine: true, pointRadius: 0, borderColor: '#555', borderWidth: 1
  }]},
  options: {scales: {
    x: {type: 'linear', min: -3, max: 3,
      grid: {drawOnChartArea: false, tickLength: -3, tickColor: '#444'}, border: {color: '#555'},
      ticks: {stepSize: 1, padding: 5, font: {size: 12}}},
    y: {min: -3, max: 3,
      grid: {drawOnChartArea: false, tickLength: -3, tickColor: '#444'}, border: {color: '#555'},
      ticks: {stepSize: 1, padding: 7, font: {size: 12}}}
  }},
  plugins: [frame('#666')]
});
text('Spearman rho= 0.63', 559, 723, 12, {left: true});
text('Positioned loop intensity score', 637, 900, 12);
text('Mcd1p ChIP-seq signal at both anchora (RPKM)', 530, 790, 12.5, {rot: -90});

// ---- panel letters
text('A', 17, 17, 21, {bold: true});
text('B', 17, 264, 21, {bold: true});
text('C', 17, 664, 21, {bold: true});
text('D', 306, 664, 21, {bold: true});
text('E', 513, 665, 21, {bold: true});
</script>
</body>
</html>
